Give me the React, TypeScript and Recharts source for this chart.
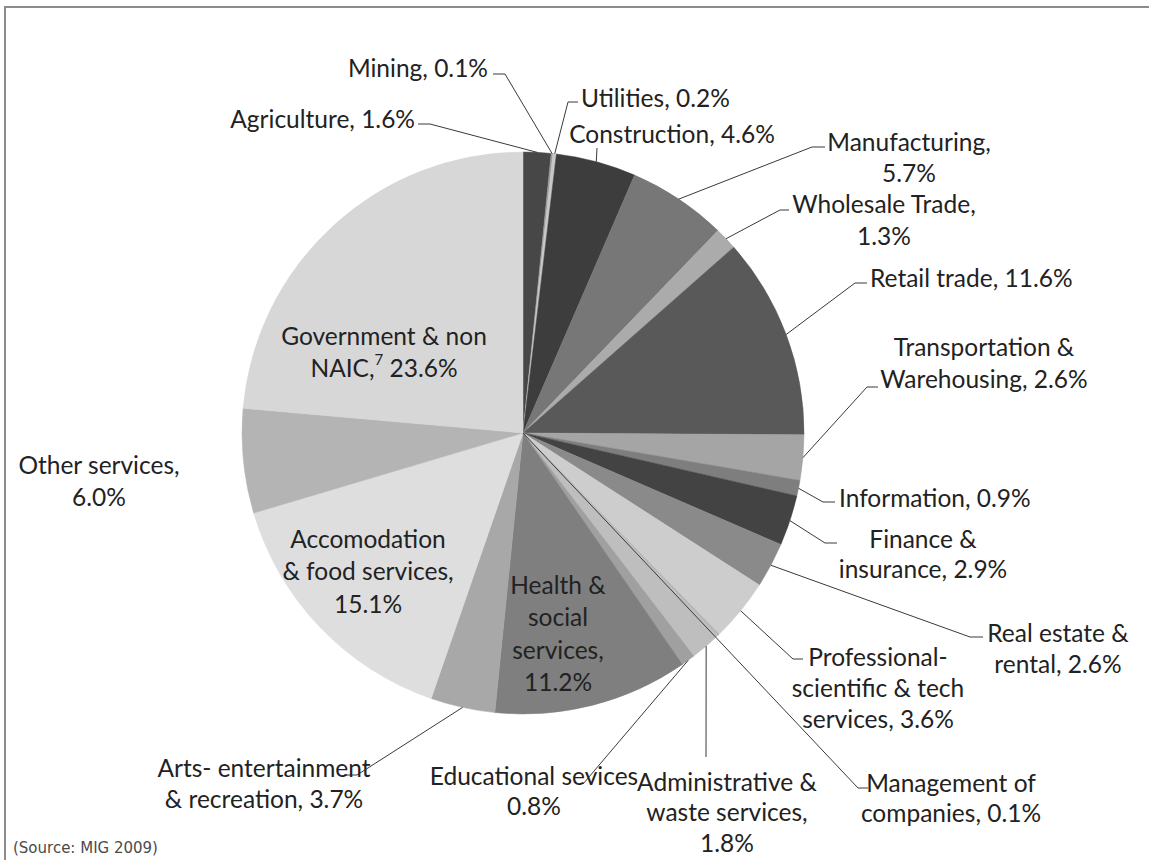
import React from "react";
import { PieChart, Pie, Cell } from "recharts";

// industry shares of employment, clockwise from 12 o'clock
const sectors = [
  "Agriculture",
  "Mining",
  "Utilities",
  "Construction",
  "Manufacturing",
  "Wholesale Trade",
  "Retail trade",
  "Transportation & Warehousing",
  "Information",
  "Finance & insurance",
  "Real estate & rental",
  "Professional-scientific & tech services",
  "Management of companies",
  "Administrative & waste services",
  "Educational sevices",
  "Health & social services",
  "Arts- entertainment & recreation",
  "Accomodation & food services",
  "Other services",
  "Government & non NAIC",
];

const shares = [
  1.6, 0.1, 0.2, 4.6, 5.7, 1.3, 11.6, 2.6, 0.9, 2.9, 2.6, 3.6, 0.1, 1.8, 0.8,
  11.2, 3.7, 15.1, 6.0, 23.6,
];

const sliceColors = [
  "#474747", "#9a9a9a", "#c8c8c8", "#3d3d3d", "#777777", "#ababab",
  "#595959", "#a5a5a5", "#7e7e7e", "#434343", "#8a8a8a", "#cdcdcd",
  "#b0b0b0", "#bebebe", "#a0a0a0", "#7f7f7f", "#a8a8a8", "#dedede",
  "#b4b4b4", "#d7d7d7",
];

const chartData = sectors.map((name, i) => ({ name, value: shares[i] }));

type LabelSpot = {
  lines: string[];
  x: number;
  ys: number[];
  anchor: "start" | "middle" | "end";
  path?: number[][]; // elbow points of the leader line, after the slice edge
  fromCenter?: boolean;
};

// manual label placement, as in the original spreadsheet chart
const labelLayout: Record<string, LabelSpot> = {
  Agriculture: { lines: ["Agriculture, %v"], x: 415, ys: [118], anchor: "end", path: [[430, 124], [418, 124]] },
  Mining: { lines: ["Mining, %v"], x: 488, ys: [67], anchor: "end", path: [[505, 74], [493, 74]] },
  Utilities: { lines: ["Utilities, %v"], x: 581, ys: [97], anchor: "start", path: [[568, 102], [578, 102]] },
  Construction: { lines: ["Construction, %v"], x: 672, ys: [133], anchor: "middle", path: [[597, 148]] },
  Manufacturing: { lines: ["Manufacturing,", "%v"], x: 909, ys: [141, 172], anchor: "middle", path: [[812, 147], [825, 147]] },
  "Wholesale Trade": { lines: ["Wholesale Trade,", "%v"], x: 884, ys: [203, 235], anchor: "middle", path: [[780, 210], [789, 210]] },
  "Retail trade": { lines: ["Retail trade, %v"], x: 870, ys: [277], anchor: "start", path: [[855, 283], [867, 283]] },
  "Transportation & Warehousing": { lines: ["Transportation &", "Warehousing, %v"], x: 984, ys: [346, 378], anchor: "middle", path: [[867, 387], [878, 387]] },
  Information: { lines: ["Information, %v"], x: 839, ys: [497], anchor: "start", path: [[823, 502], [835, 502]] },
  "Finance & insurance": { lines: ["Finance &", "insurance, %v"], x: 923, ys: [538, 568], anchor: "middle", path: [[825, 543], [837, 543]] },
  "Real estate & rental": { lines: ["Real estate &", "rental, %v"], x: 1058, ys: [632, 663], anchor: "middle", path: [[970, 637], [983, 637]] },
  "Professional-scientific & tech services": { lines: ["Professional-", "scientific & tech", "services, %v"], x: 878, ys: [656, 687, 718], anchor: "middle", path: [[793, 659], [803, 659]] },
  "Management of companies": { lines: ["Management of", "companies, %v"], x: 951, ys: [782, 812], anchor: "middle", path: [[858, 788], [868, 788]], fromCenter: true },
  "Administrative & waste services": { lines: ["Administrative &", "waste services,", "%v"], x: 727, ys: [781, 811, 842], anchor: "middle", path: [[706, 757]] },
  "Educational sevices": { lines: ["Educational sevices", "%v"], x: 534, ys: [775, 805], anchor: "middle", path: [[583, 784]] },
  "Health & social services": { lines: ["Health &", "social", "services,", "%v"], x: 558, ys: [584, 616, 649, 681], anchor: "middle" },
  "Arts- entertainment & recreation": { lines: ["Arts- entertainment", "& recreation, %v"], x: 264, ys: [767, 798], anchor: "middle", path: [[357, 775], [344, 775]] },
  "Accomodation & food services": { lines: ["Accomodation", "& food services,", "%v"], x: 368, ys: [538, 570, 603], anchor: "middle" },
  "Other services": { lines: ["Other services,", "%v"], x: 99, ys: [464, 496], anchor: "middle" },
  "Government & non NAIC": { lines: ["Government & non", "NAIC,^7 %v"], x: 384, ys: [335, 367], anchor: "middle" },
};

const LABEL_FONT = "Lato, 'Noto Sans', sans-serif";
const RADIAN = Math.PI / 180;

const renderLabel = (props: any) => {
  const { cx, cy, midAngle, outerRadius, index } = props;
  const name = sectors[index];
  const spot = labelLayout[name];
  if (!spot) return null;
  const pct = `${shares[index].toFixed(1)}%`;

  const ex = cx + outerRadius * Math.cos(-midAngle * RADIAN);
  const ey = cy + outerRadius * Math.sin(-midAngle * RADIAN);
  const start = spot.fromCenter ? [cx, cy] : [ex, ey];
  const pts = spot.path ? [start, ...spot.path] : null;

  return (
    <g key={`lbl-${index}`}>
      {pts && (
        <polyline
          points={pts.map((p) => p.join(",")).join(" ")}
          fill="none"
          stroke="#3a3a3a"
          strokeWidth={1}
        />
      )}
      {spot.lines.map((line, li) => {
        const parts = line.replace("%v", pct).split(/\^(\d)/);
        return (
          <text
            key={li}
            x={spot.x}
            y={spot.ys[li]}
            textAnchor={spot.anchor}
            dominantBaseline="central"
            fontFamily={LABEL_FONT}
            fontSize={24.5}
            fill="#222"
          >
            {parts.map((part, pi) =>
              pi % 2 === 1 ? (
                <tspan key={pi} dy={-8} fontSize={15}>
                  {part}
                </tspan>
              ) : (
                <tspan key={pi} dy={pi > 0 ? 8 : 0}>
                  {part}
                </tspan>
              )
            )}
          </text>
        );
      })}
    </g>
  );
};

export default function App() {
  return (
    <div
      style={{
        position: "absolute",
        left: 0,
        top: 0,
        width: 1149,
        height: 860,
        overflow: "hidden",
        background: "#fff",
      }}
    >
      <div
        style={{
          position: "absolute",
          left: 4,
          top: 6,
          width: 1300,
          height: 1000,
          borderLeft: "2px solid #8c8c8c",
          borderTop: "2px solid #8c8c8c",
        }}
      />
      <div style={{ position: "absolute", left: 0, top: 0 }}>
        <PieChart width={1149} height={860} margin={{ top: 0, right: 0, bottom: 0, left: 0 }}>
          <Pie
            data={chartData}
            dataKey="value"
            nameKey="name"
            cx={523}
            cy={433}
            outerRadius={281}
            startAngle={90}
            endAngle={-270}
            label={renderLabel}
            labelLine={false}
            isAnimationActive={false}
          >
            {chartData.map((d, i) => (
              <Cell key={d.name} fill={sliceColors[i]} stroke={sliceColors[i]} strokeWidth={0.5} />
            ))}
          </Pie>
        </PieChart>
      </div>
      <div
        style={{
          position: "absolute",
          left: 13,
          top: 838,
          fontFamily: "'DejaVu Sans', Verdana, sans-serif",
          fontSize: 15,
          color: "#4a4a4a",
          lineHeight: "20px",
          whiteSpace: "nowrap",
        }}
      >
        (Source: MIG 2009)
      </div>
    </div>
  );
}
